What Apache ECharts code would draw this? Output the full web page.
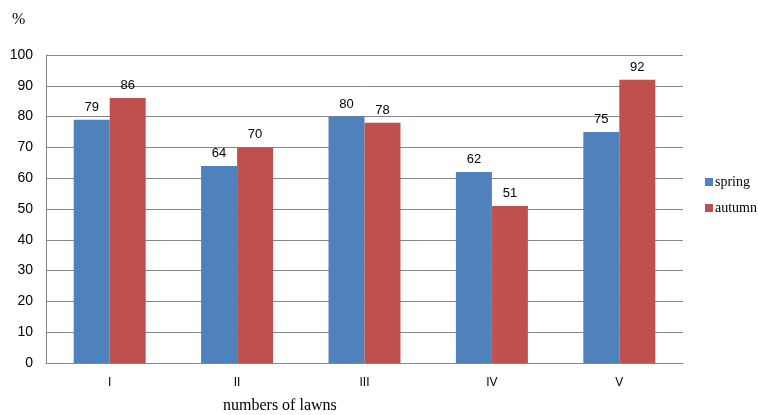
<!DOCTYPE html>
<html>
<head>
<meta charset="utf-8">
<style>
  html, body { margin: 0; padding: 0; background: #ffffff; }
  #chart { width: 758px; height: 415px; }
</style>
<script src="https://cdn.jsdelivr.net/npm/echarts@6/dist/echarts.min.js"></script>
</head>
<body>
<div id="chart"></div>
<script>
// Lawn numbers and seasonal percentages
const categories = ['I', 'II', 'III', 'IV', 'V'];
const springValues = [79, 64, 80, 62, 75];
const autumnValues = [86, 70, 78, 51, 92];
const yTicks = { min: 0, max: 100, interval: 10 };

const sansFont = '"Liberation Sans", Arial, sans-serif';
const serifFont = '"Liberation Serif", "Times New Roman", serif';

const chart = echarts.init(document.getElementById('chart'));

const valueLabel = {
  show: true,
  position: 'top',
  distance: 6,
  color: '#000000',
  fontFamily: sansFont,
  fontSize: 13
};

chart.setOption({
  animation: false,
  backgroundColor: '#ffffff',
  grid: { left: 46, right: 75, top: 55, bottom: 52, containLabel: false },
  legend: {
    orient: 'vertical',
    left: 700,
    top: 170,
    padding: 5,
    itemWidth: 8,
    itemHeight: 8,
    itemGap: 12,
    icon: 'rect',
    textStyle: { fontFamily: serifFont, fontSize: 14, color: '#000000', padding: [0, 0, 0, -3] },
    data: ['spring', 'autumn']
  },
  xAxis: {
    type: 'category',
    data: categories,
    axisLine: { show: true, lineStyle: { color: '#868686', width: 1 } },
    axisTick: { show: false },
    axisLabel: { margin: 14, color: '#000000', fontFamily: sansFont, fontSize: 12 }
  },
  yAxis: {
    type: 'value',
    min: yTicks.min,
    max: yTicks.max,
    interval: yTicks.interval,
    axisLine: { show: true, lineStyle: { color: '#868686', width: 1 } },
    axisTick: { show: false },
    axisLabel: { margin: 13, color: '#000000', fontFamily: sansFont, fontSize: 14 },
    splitLine: { show: true, lineStyle: { color: '#868686', width: 1 } }
  },
  graphic: [
    {
      type: 'text',
      left: 12,
      top: 12,
      style: { text: '%', fontFamily: serifFont, fontSize: 16, fill: '#000000' }
    },
    {
      type: 'text',
      left: 223,
      top: 398,
      style: { text: 'numbers of lawns', fontFamily: serifFont, fontSize: 16, fill: '#000000' }
    }
  ],
  series: [
    {
      name: 'spring',
      type: 'bar',
      data: springValues,
      barGap: '0%',
      barCategoryGap: '43.5%',
      itemStyle: { color: '#4f81bd' },
      label: valueLabel
    },
    {
      name: 'autumn',
      type: 'bar',
      data: autumnValues,
      barGap: '0%',
      barCategoryGap: '43.5%',
      itemStyle: { color: '#c0504d' },
      label: valueLabel
    }
  ]
});
</script>
</body>
</html>
